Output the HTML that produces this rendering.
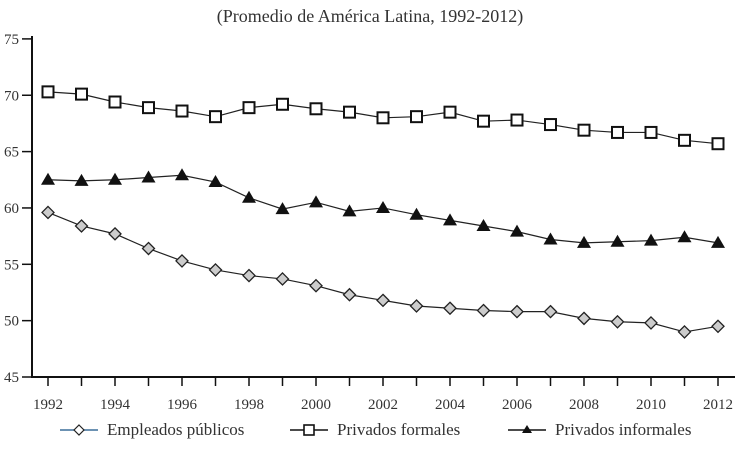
<!DOCTYPE html>
<html><head><meta charset="utf-8"><style>
body{margin:0;background:#fff}
svg text{font-family:"Liberation Serif",serif;fill:#333}
</style></head><body>
<svg id="c" width="745" height="445" xmlns="http://www.w3.org/2000/svg">
<text x="370" y="22" text-anchor="middle" font-size="18">(Promedio de América Latina, 1992-2012)</text>
</svg>
<script>
const years=[1992,1993,1994,1995,1996,1997,1998,1999,2000,2001,2002,2003,2004,2005,2006,2007,2008,2009,2010,2011,2012];
const publicos=[59.6,58.4,57.7,56.4,55.3,54.5,54.0,53.7,53.1,52.3,51.8,51.3,51.1,50.9,50.8,50.8,50.2,49.9,49.8,49.0,49.5];
const formales=[70.3,70.1,69.4,68.9,68.6,68.1,68.9,69.2,68.8,68.5,68.0,68.1,68.5,67.7,67.8,67.4,66.9,66.7,66.7,66.0,65.7];
const informales=[62.5,62.4,62.5,62.7,62.9,62.3,60.9,59.9,60.5,59.7,60.0,59.4,58.9,58.4,57.9,57.2,56.9,57.0,57.1,57.4,56.9];
const yTicks=[45,50,55,60,65,70,75];
const xLabels=[1992,1994,1996,1998,2000,2002,2004,2006,2008,2010,2012];
const NS="http://www.w3.org/2000/svg",svg=document.getElementById('c');
const x=v=>48+(v-1992)*33.5, y=v=>377-(v-45)*11.27;
function mk(t,a,p){const e=document.createElementNS(NS,t);for(const k in a)e.setAttribute(k,a[k]);(p||svg).appendChild(e);return e;}
let e=mk('line',{x1:32,y1:36,x2:32,y2:378,stroke:'#111','stroke-width':2});


e=mk('line',{x1:31,y1:377,x2:735,y2:377,stroke:'#111','stroke-width':2});


yTicks.forEach(v=>{mk('line',{x1:22,x2:32,y1:y(v),y2:y(v),stroke:'#111','stroke-width':1.5});
 e=mk('text',{x:19,y:y(v)+5,'text-anchor':'end','font-size':15});e.textContent=v;
 
 });
years.forEach(v=>{mk('line',{x1:x(v),x2:x(v),y1:377,y2:386,stroke:'#111','stroke-width':1.5});});
xLabels.forEach(v=>{e=mk('text',{x:x(v),y:409,'text-anchor':'middle','font-size':15});e.textContent=v;
 
 });
function marker(type,cx,cy,g){
 if(type==='d')mk('polygon',{points:`${cx},${cy-6} ${cx+6},${cy} ${cx},${cy+6} ${cx-6},${cy}`,fill:'#ccc',stroke:'#222','stroke-width':1.3},g);
 else if(type==='s')mk('rect',{x:cx-5.5,y:cy-5.5,width:11,height:11,fill:'#fff',stroke:'#111','stroke-width':2},g);
 else mk('polygon',{points:`${cx},${cy-7} ${cx+7},${cy+5} ${cx-7},${cy+5}`,fill:'#111'},g);
}
function series(data,type,name){
 const g=mk('g',{});
 
 
 mk('polyline',{points:data.map((v,i)=>x(years[i])+','+y(v)).join(' '),fill:'none',stroke:'#222','stroke-width':1.2},g);
 data.forEach((v,i)=>marker(type,x(years[i]),y(v),g));
}
series(publicos,'d','series-empleados-publicos');
series(formales,'s','series-privados-formales');
series(informales,'t','series-privados-informales');
const leg=[[60,'#3b6f9a','d','Empleados públicos'],[290,'#111','s','Privados formales'],[508,'#111','t','Privados informales']];
leg.forEach(l=>{const g=mk('g',{});
 
 
 mk('line',{x1:l[0],x2:l[0]+38,y1:430,y2:430,stroke:l[1],'stroke-width':1.5},g);
 if(l[2]==='d')mk('polygon',{points:`${l[0]+19},${425} ${l[0]+24},430 ${l[0]+19},435 ${l[0]+14},430`,fill:'#fff',stroke:'#222','stroke-width':1.2},g);
 else if(l[2]==='s')mk('rect',{x:l[0]+14,y:425,width:10,height:10,fill:'#fff',stroke:'#111','stroke-width':1.6},g);
 else mk('polygon',{points:`${l[0]+19},425 ${l[0]+24},433 ${l[0]+14},433`,fill:'#111'},g);
 const t=mk('text',{x:l[0]+47,y:435,'font-size':17},g);t.textContent=l[3];});
</script>
</body></html>
